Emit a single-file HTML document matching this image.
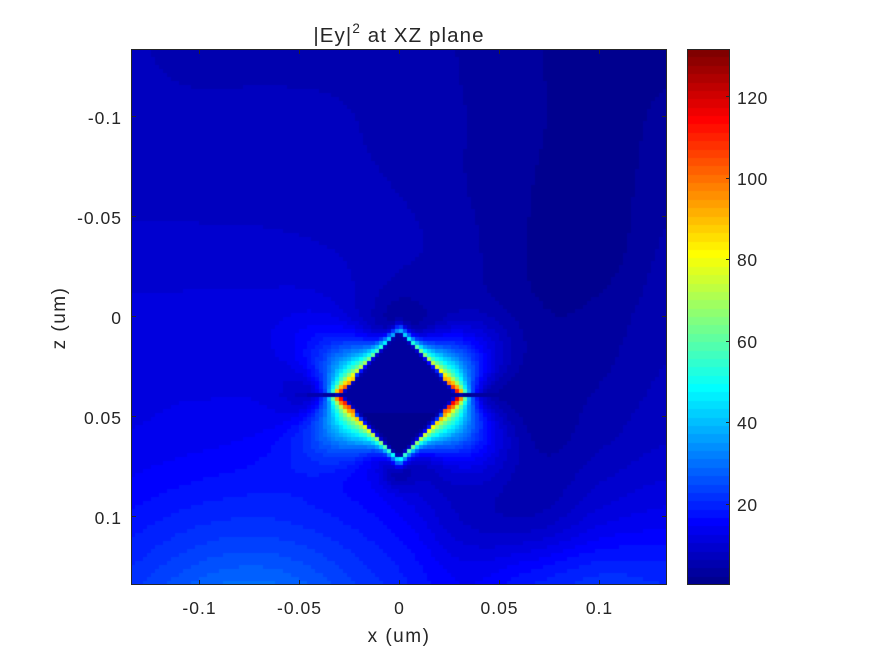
<!DOCTYPE html>
<html><head><meta charset="utf-8">
<style>
html,body{margin:0;padding:0;background:#fff;}
body{width:875px;height:656px;position:relative;overflow:hidden;font-family:"Liberation Sans",Arial,sans-serif;}
#hm{position:absolute;left:131px;top:49px;width:536px;height:536px;background:linear-gradient(#0000b0,#0000d0 55%,#0040ff);}
#cb{position:absolute;left:687px;top:49px;width:43px;height:536px;background:linear-gradient(#800000,#ff0000 12%,#ffff00 37%,#00ffff 62%,#0000ff 87%,#00008f);}
svg{position:absolute;left:0;top:0;}
</style></head><body>
<canvas id="hm" width="536" height="536"></canvas>
<canvas id="cb" width="43" height="536"></canvas>
<svg width="875" height="656" font-family="Liberation Sans, Arial, sans-serif" fill="#262626">
<g stroke="#262626" stroke-width="1" fill="none" shape-rendering="crispEdges">
<rect x="131.5" y="49.5" width="535" height="535"/>
<path d="M199.5 585v-5M299.5 585v-5M399.5 585v-5M499.5 585v-5M599.5 585v-5M199.5 49v5M299.5 49v5M399.5 49v5M499.5 49v5M599.5 49v5M131 116.5h5M131 216.5h5M131 316.5h5M131 416.5h5M131 516.5h5M667 116.5h-5M667 216.5h-5M667 316.5h-5M667 416.5h-5M667 516.5h-5"/>
<rect x="687.5" y="49.5" width="42" height="535"/>
<path d="M730 504.5h-4M730 422.5h-4M730 341.5h-4M730 259.5h-4M730 178.5h-4M730 96.5h-4"/>
</g>
<g font-size="17.5" letter-spacing="1" text-anchor="middle">
<text x="199.5" y="614">-0.1</text>
<text x="299.5" y="614">-0.05</text>
<text x="399.5" y="614">0</text>
<text x="499.5" y="614">0.05</text>
<text x="599.5" y="614">0.1</text>
</g>
<g font-size="17.5" letter-spacing="1" text-anchor="end">
<text x="122" y="124">-0.1</text>
<text x="122" y="224">-0.05</text>
<text x="122" y="324">0</text>
<text x="122" y="424">0.05</text>
<text x="122" y="524">0.1</text>
</g>
<g font-size="17.5" letter-spacing="0.6">
<text x="737" y="104">120</text>
<text x="737" y="185">100</text>
<text x="737" y="266">80</text>
<text x="737" y="348">60</text>
<text x="737" y="429">40</text>
<text x="737" y="511">20</text>
</g>
<text x="399" y="642" font-size="19" letter-spacing="1.5" text-anchor="middle">x (um)</text>
<text transform="translate(65,318) rotate(-90)" font-size="19" letter-spacing="1.5" text-anchor="middle">z (um)</text>
<text x="399" y="42" font-size="20.5" letter-spacing="1.1" text-anchor="middle">|Ey|<tspan dy="-9" font-size="13.5">2</tspan><tspan dy="9"> at XZ plane</tspan></text>
</svg>
<script>
(function(){
function jet(k){k=Math.max(0,Math.min(63,Math.floor(k)));
var r,g,b;
b=k<=7?(k+9)/16:(k<=23?1:(k<=38?(39-k)/16:0));
g=k<=7?0:(k<=22?(k-7)/16:(k<=39?1:(k<=54?(55-k)/16:0)));
r=k<=23?0:(k<=38?(k-23)/16:(k<=55?1:1-(k-55)/16));
return 'rgb('+Math.round(r*255)+','+Math.round(g*255)+','+Math.round(b*255)+')';}
var G=[
[3.2,2.4,2.5,2.5,2.5,1.9,1.1,0.4,0.6],
[3.5,3.4,3.4,3.2,2.5,2.0,1.2,0.3,1.3],
[3.6,3.5,3.5,3.4,2.9,2.0,1.0,0.3,1.7],
[4.4,4.4,4.3,4.0,3.3,2.3,0.9,0.4,2.2],
[5.3,5.3,5.2,4.8,2.0,2.2,0.8,1.3,2.7],
[5.8,5.8,5.6,3.8,1.2,2.6,1.5,2.0,3.2],
[6.5,7.0,7.5,7.0,1.8,3.5,1.5,3.0,4.2],
[8.8,10.0,10.8,9.3,6.8,3.8,3.0,5.5,6.5],
[11.5,13.0,14.3,12.5,9.5,7.0,9.0,10.5,10.0]];
function cr(p0,p1,p2,p3,t){return 0.5*((2*p1)+(-p0+p2)*t+(2*p0-5*p1+4*p2-p3)*t*t+(-p0+3*p1-3*p2+p3)*t*t*t);}
function gv(r,c){r=Math.max(0,Math.min(8,r));c=Math.max(0,Math.min(8,c));return G[r][c];}
function bg(px,py){var gx=(px-131)/67,gy=(py-49)/67;var ix=Math.floor(gx),iy=Math.floor(gy);
if(ix>7)ix=7;if(iy>7)iy=7;if(ix<0)ix=0;if(iy<0)iy=0;var tx=gx-ix,ty=gy-iy;var rows=[];
for(var j=-1;j<=2;j++){rows.push(cr(gv(iy+j,ix-1),gv(iy+j,ix),gv(iy+j,ix+1),gv(iy+j,ix+2),tx));}
return cr(rows[0],rows[1],rows[2],rows[3],ty);}
function clamp(v,a,b){return v<a?a:(v>b?b:v);}
var cx=399,cy=395,a=64,b=68,h=a*b/Math.sqrt(a*a+b*b);
var S=[[315,395,28,0.35],[483,395,28,0.35],[399,474,14,0.6],[399,316,18,0.4]];
function val(px,py){
 var v=bg(px,py);
 var w=clamp((py-400)/80,0,1)*clamp((440-px)/80,0,1);
 if(w>0){var ex=(px-250)/1.15,ey=py-650;var d=Math.sqrt(ex*ex+ey*ey);var rad=2+19.2*Math.exp(-d/150);v=v*(1-w)+rad*w;}
 for(var k=0;k<S.length;k++){var q=S[k];var qx=px-q[0],qy=py-q[1];v*=1-q[3]*Math.exp(-(qx*qx+qy*qy)/(q[2]*q[2]));}
 var dx=px-cx,dy=py-cy,adx=Math.abs(dx),ady=Math.abs(dy);
 var p=adx/a+ady/b;var s=(p-1)*h;
 var t=p>0?(ady/b)/p:0;if(t>1)t=1;
 var A=52-55*t+22*t*t+6*Math.exp(-t/0.05)+(dy>0?4:0)+(dx>0?3:0)-6*Math.max(0,t-0.7)/0.3;
 var gap=1-Math.exp(-(dy/2.2)*(dy/2.2));
 var L=2.5+23*Math.exp(-Math.pow((t-0.38)/0.25,2));
 if(s<-2.2){var inside=1.9-1.4*(dy+b)/(2*b);return Math.max(inside,A*gap*0.3*Math.exp((s+2.2)/2));}
 if(ady<2&&adx>a){v*=1-0.8*Math.exp(-(adx-a)/15);}
 var dd=Math.max(s,0);
 return v+A*gap*(0.17*Math.exp(-dd/3)+0.83*Math.exp(-dd/L));
}
var c=document.getElementById('hm').getContext('2d');
for(var j=0;j<134;j++){for(var i=0;i<134;i++){
 var px=131+4*i+2,py=49+4*j+2;var v=val(px,py);if(v<0)v=0;
 c.fillStyle=jet(v);c.fillRect(4*i,4*j,4,4);}}
var cb=document.getElementById('cb').getContext('2d');
for(var k=0;k<64;k++){var y0=Math.round(536-(k+1)*8.375),y1=Math.round(536-k*8.375);
 cb.fillStyle=jet(k);cb.fillRect(0,y0,43,y1-y0);}
})();
</script>
</body></html>
